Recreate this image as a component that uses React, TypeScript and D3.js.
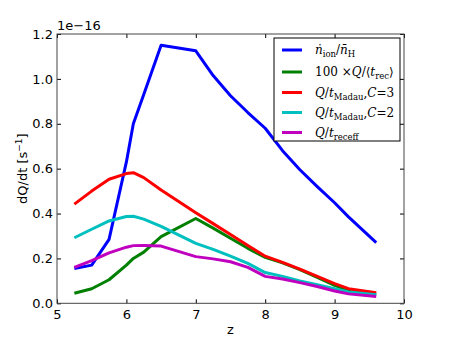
import { useRef, useEffect } from 'react';
import * as d3 from 'd3';

// redshift snapshots
const zVals = [5.25, 5.5, 5.75, 6.0, 6.1, 6.25, 6.5, 7.0, 7.25, 7.5, 7.75, 8.0, 8.25, 8.5, 8.75, 9.0, 9.2, 9.6];
// dQ/dt in units of 1e-16 s^-1
const nIonRate = [0.155, 0.17, 0.285, 0.63, 0.8, 0.93, 1.15, 1.125, 1.015, 0.925, 0.85, 0.78, 0.68, 0.595, 0.52, 0.448, 0.385, 0.27];
const recRate = [0.045, 0.065, 0.105, 0.17, 0.2, 0.228, 0.297, 0.378, 0.335, 0.29, 0.245, 0.205, 0.18, 0.15, 0.115, 0.08, 0.058, 0.04];
const madauC3 = [0.442, 0.5, 0.553, 0.578, 0.582, 0.56, 0.505, 0.404, 0.355, 0.307, 0.258, 0.21, 0.182, 0.152, 0.12, 0.088, 0.065, 0.047];
const madauC2 = [0.292, 0.33, 0.367, 0.387, 0.388, 0.375, 0.343, 0.267, 0.24, 0.21, 0.178, 0.137, 0.12, 0.1, 0.083, 0.065, 0.05, 0.038];
const recEff = [0.16, 0.19, 0.225, 0.25, 0.257, 0.258, 0.255, 0.208, 0.198, 0.185, 0.16, 0.12, 0.108, 0.092, 0.075, 0.055, 0.042, 0.03];

const xTicks = [5, 6, 7, 8, 9, 10];
const yTicks = [0, 0.2, 0.4, 0.6, 0.8, 1.0, 1.2];

type Part = { t: string; it?: boolean; sub?: boolean };

const series: { vals: number[]; color: string; label: Part[] }[] = [
  { vals: nIonRate, color: '#0000ff', label: [{ t: 'ṅ', it: true }, { t: 'ion', sub: true }, { t: '/' }, { t: 'n̄', it: true }, { t: 'H', sub: true }] },
  { vals: recRate, color: '#008000', label: [{ t: '100 ×' }, { t: 'Q', it: true }, { t: '/⟨' }, { t: 't', it: true }, { t: 'rec', sub: true }, { t: '⟩' }] },
  { vals: madauC3, color: '#ff0000', label: [{ t: 'Q', it: true }, { t: '/' }, { t: 't', it: true }, { t: 'Madau', sub: true }, { t: ',' }, { t: 'C', it: true }, { t: '=3' }] },
  { vals: madauC2, color: '#00bfbf', label: [{ t: 'Q', it: true }, { t: '/' }, { t: 't', it: true }, { t: 'Madau', sub: true }, { t: ',' }, { t: 'C', it: true }, { t: '=2' }] },
  { vals: recEff, color: '#bf00bf', label: [{ t: 'Q', it: true }, { t: '/' }, { t: 't', it: true }, { t: 'receff', sub: true }] },
];
const legendRows = [50, 72, 92.5, 112.5, 132.5];

const App = () => {
  const svgRef = useRef<SVGSVGElement>(null);

  useEffect(() => {
    const w = 450;
    const h = 338;
    const svg = d3.select(svgRef.current).attr('width', w).attr('height', h);
    svg.selectAll('*').remove();

    const x = d3.scaleLinear().domain([5, 10]).range([57, 404]);
    const y = d3.scaleLinear().domain([0, 1.2]).range([303.3, 34]);
    const font = 'DejaVu Sans, sans-serif';

    // lines
    const line = d3.line<number>()
      .x((_, i) => x(zVals[i]))
      .y(d => y(d));
    series.forEach(s => {
      svg.append('path')
        .datum(s.vals)
        .attr('d', line)
        .attr('fill', 'none')
        .attr('stroke', s.color)
        .attr('stroke-width', 3)
        .attr('stroke-linejoin', 'round');
    });

    // axes, ticks inward on all sides
    const styleAxis = (g: any) => {
      g.select('.domain').remove();
      g.selectAll('.tick line').attr('stroke', '#000');
      g.selectAll('text').attr('font-family', font).attr('font-size', 13).attr('fill', '#000');
    };
    svg.append('g').attr('transform', `translate(0,${y(0)})`)
      .call(d3.axisBottom(x).tickValues(xTicks).tickFormat(d3.format('d')).tickSize(-4).tickPadding(6))
      .call(styleAxis);
    svg.append('g').attr('transform', `translate(0,${y(1.2)})`)
      .call(d3.axisTop(x).tickValues(xTicks).tickFormat(() => '').tickSize(-4))
      .call(styleAxis);
    svg.append('g').attr('transform', `translate(${x(5)},0)`)
      .call(d3.axisLeft(y).tickValues(yTicks).tickFormat(d3.format('.1f')).tickSize(-4).tickPadding(4))
      .call(styleAxis);
    svg.append('g').attr('transform', `translate(${x(10)},0)`)
      .call(d3.axisRight(y).tickValues(yTicks).tickFormat(() => '').tickSize(-4))
      .call(styleAxis);

    // frame
    svg.append('rect')
      .attr('x', x(5)).attr('y', y(1.2))
      .attr('width', x(10) - x(5)).attr('height', y(0) - y(1.2))
      .attr('fill', 'none').attr('stroke', '#444').attr('stroke-width', 1);

    // offset text
    svg.append('text').attr('x', x(5)).attr('y', y(1.2) - 4)
      .attr('font-family', font).attr('font-size', 13).text('1e\u221216');

    // axis labels
    svg.append('text').attr('x', (x(5) + x(10)) / 2).attr('y', 334)
      .attr('text-anchor', 'middle').attr('font-family', font).attr('font-size', 13).text('z');
    const yl = svg.append('text')
      .attr('transform', `translate(27,${(y(0) + y(1.2)) / 2}) rotate(-90)`)
      .attr('text-anchor', 'middle').attr('font-family', font).attr('font-size', 13);
    yl.append('tspan').text('dQ/dt [s');
    yl.append('tspan').attr('dy', -5).attr('font-size', 9).text('\u22121');
    yl.append('tspan').attr('dy', 5).text(']');

    // legend
    const lg = svg.append('g');
    lg.append('rect')
      .attr('x', 274).attr('y', 38).attr('width', 126).attr('height', 103)
      .attr('fill', '#fff').attr('stroke', '#000').attr('stroke-width', 1);
    series.forEach((s, i) => {
      const cy = legendRows[i];
      lg.append('line')
        .attr('x1', 282).attr('x2', 302).attr('y1', cy).attr('y2', cy)
        .attr('stroke', s.color).attr('stroke-width', 3);
      const t = lg.append('text')
        .attr('x', 315).attr('y', cy + 4)
        .attr('font-family', 'DejaVu Serif, serif').attr('font-size', 12);
      let down = false;
      s.label.forEach(p => {
        const ts = t.append('tspan').text(p.t);
        if (p.it) ts.attr('font-style', 'italic');
        if (p.sub) {
          ts.attr('font-size', 8.5);
          if (!down) { ts.attr('dy', 3); down = true; }
        } else if (down) {
          ts.attr('dy', -3); down = false;
        }
      });
    });
  }, []);

  return (
    <div style={{ position: 'absolute', left: 0, top: 0 }}>
      <svg ref={svgRef} style={{ display: 'block' }}></svg>
    </div>
  );
};

export default App;
